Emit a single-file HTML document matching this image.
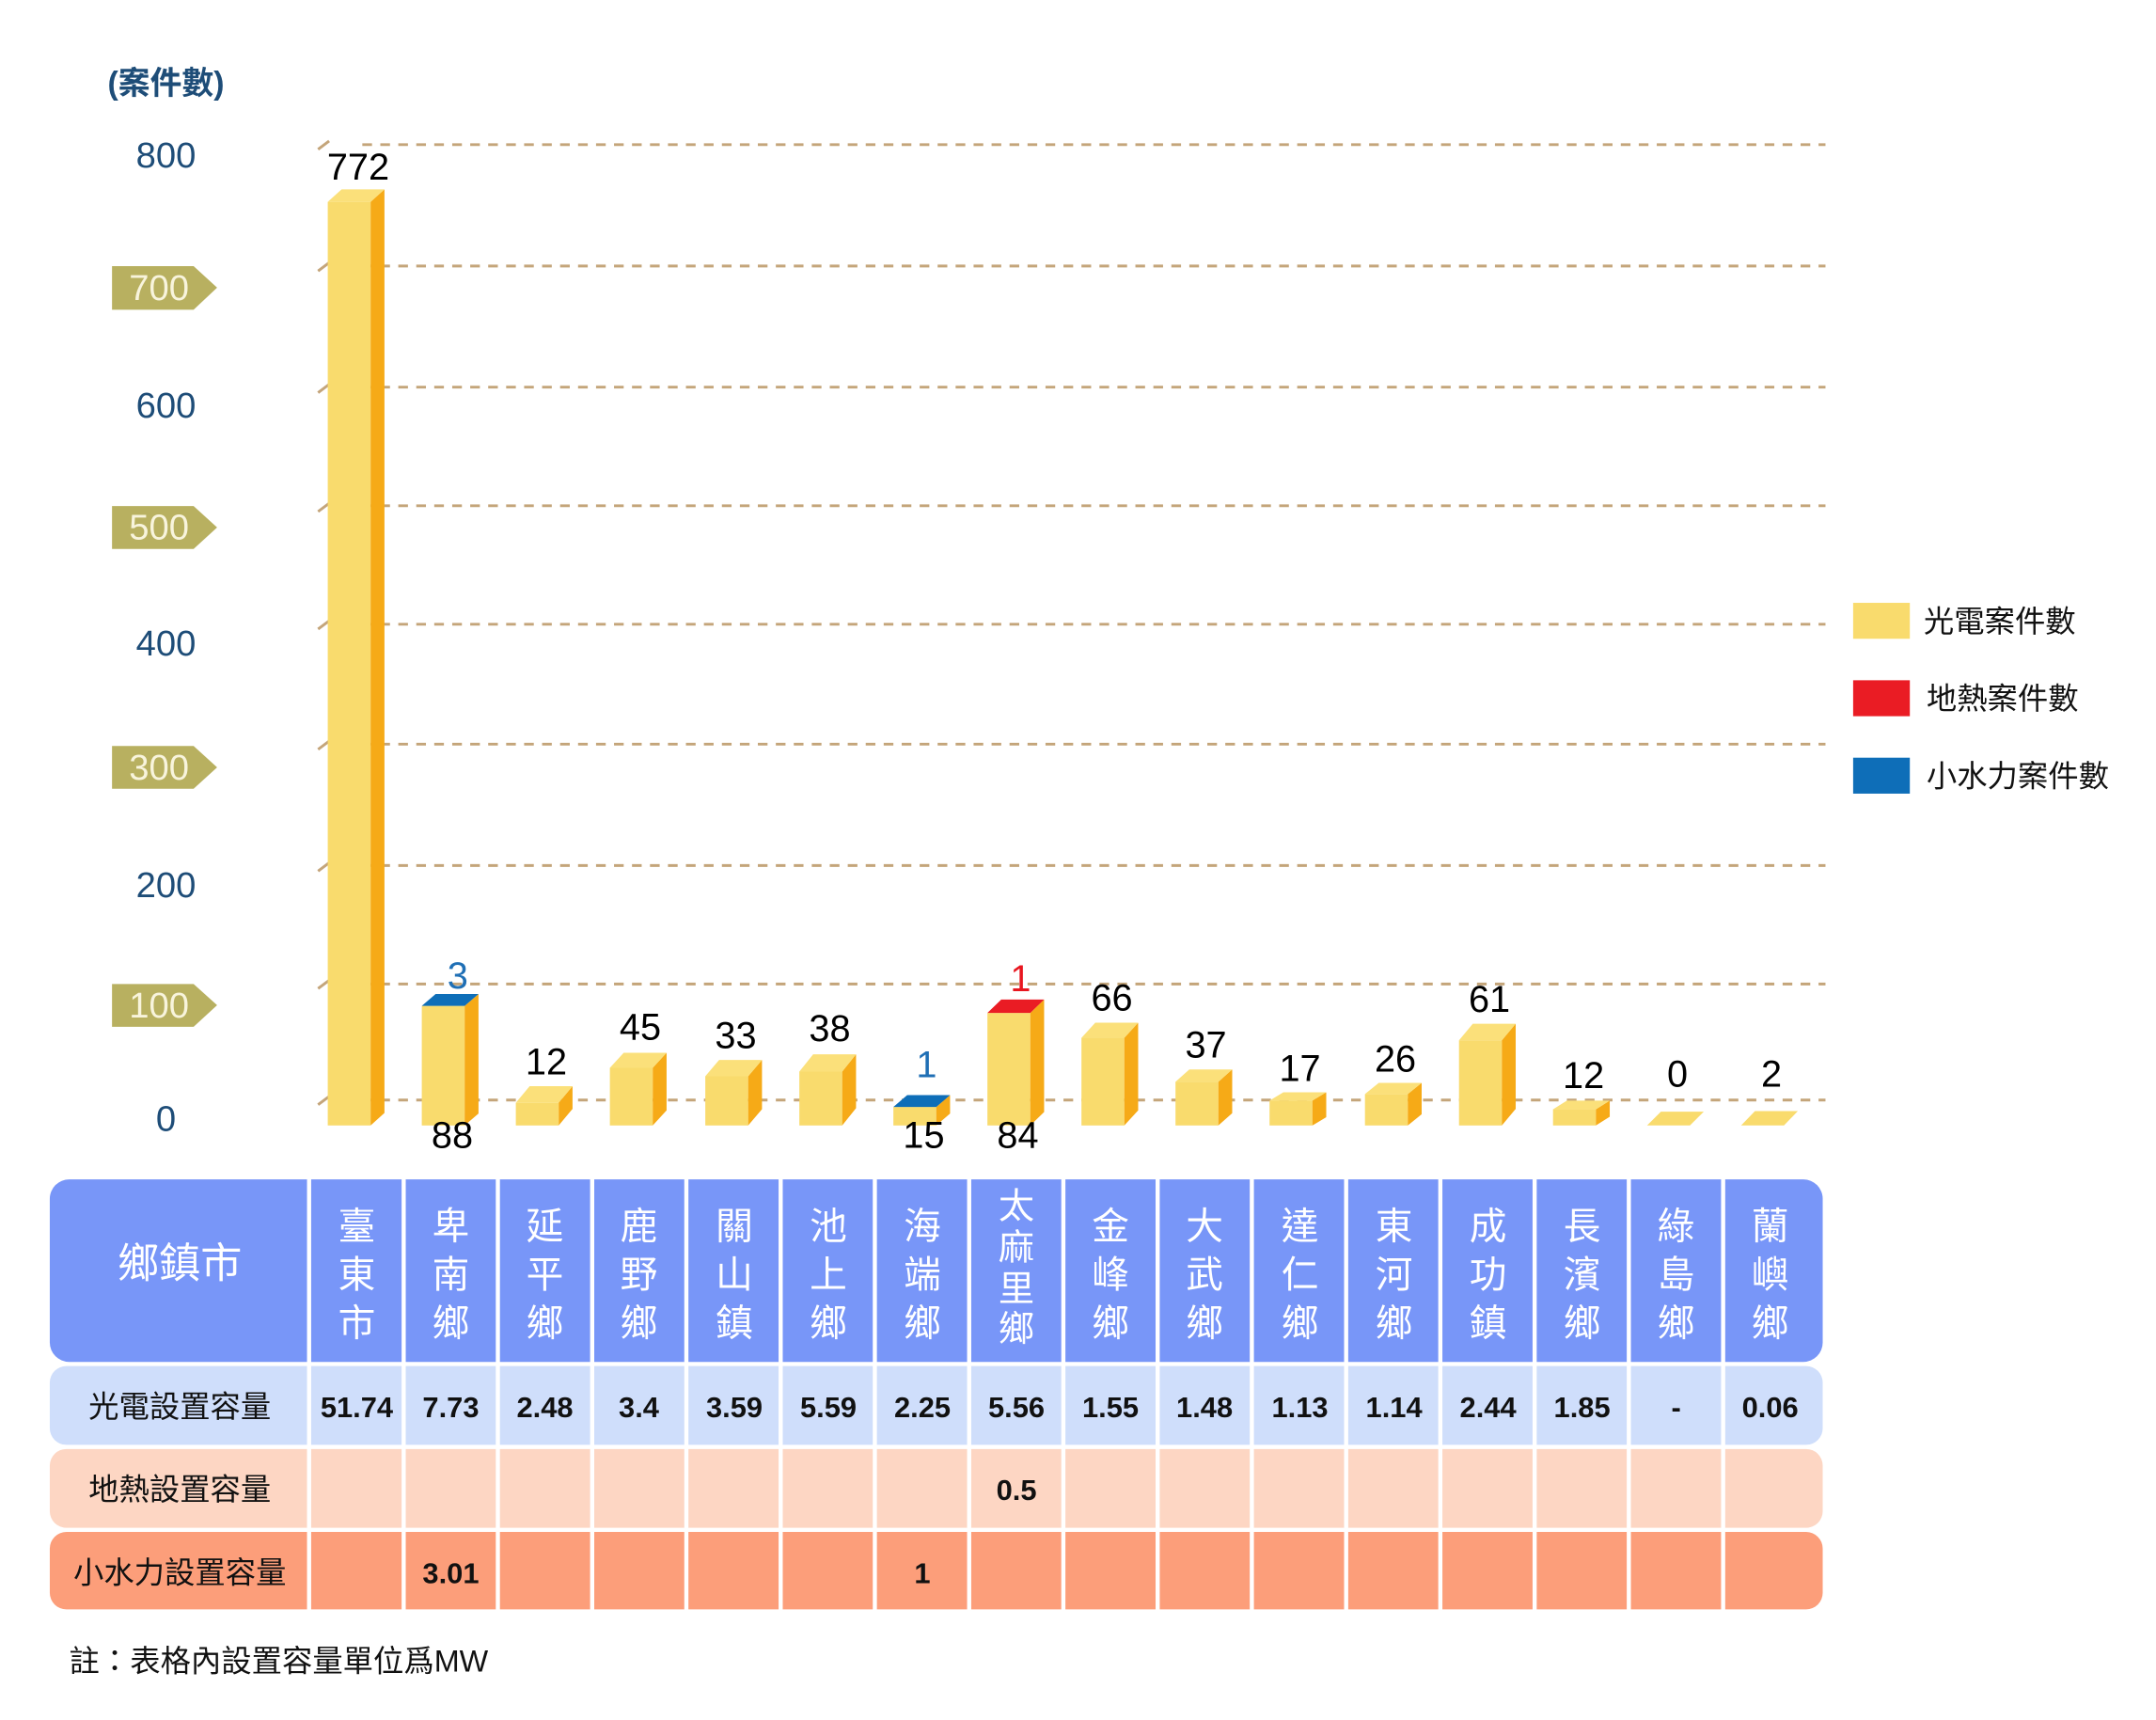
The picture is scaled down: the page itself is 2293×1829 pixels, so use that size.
<!DOCTYPE html>
<html><head><meta charset="utf-8"><style>
html,body{margin:0;padding:0;background:#fff;}
svg{display:block;}
text{font-family:"Liberation Sans","Noto Sans CJK TC",sans-serif;}
</style></head><body>
<svg width="2293" height="1829" viewBox="0 0 1559 1244" preserveAspectRatio="none" xmlns="http://www.w3.org/2000/svg">
<rect width="1559" height="1244" fill="#fff"/>
<text x="120" y="68" font-size="23" fill="#1e4d78" text-anchor="middle" font-weight="bold">(案件數)</text>
<g stroke="#c4a57a" stroke-width="2" stroke-dasharray="7,6" fill="none">
<line x1="262" y1="104.6" x2="1320" y2="104.6"/><line x1="262" y1="192.4" x2="1320" y2="192.4"/>
<line x1="262" y1="280" x2="1320" y2="280"/><line x1="262" y1="365.8" x2="1320" y2="365.8"/>
<line x1="262" y1="451.5" x2="1320" y2="451.5"/><line x1="262" y1="538.2" x2="1320" y2="538.2"/>
<line x1="262" y1="626" x2="1320" y2="626"/><line x1="262" y1="711.7" x2="1320" y2="711.7"/>
<line x1="262" y1="795.6" x2="1320" y2="795.6"/>
</g>
<g stroke="#c4a57a" stroke-width="2">
<line x1="230" y1="108" x2="238" y2="102"/><line x1="230" y1="196" x2="238" y2="190"/>
<line x1="230" y1="284" x2="238" y2="278"/><line x1="230" y1="370" x2="238" y2="364"/>
<line x1="230" y1="455" x2="238" y2="449"/><line x1="230" y1="542" x2="238" y2="536"/>
<line x1="230" y1="630" x2="238" y2="624"/><line x1="230" y1="715" x2="238" y2="709"/>
<line x1="230" y1="799" x2="238" y2="793"/>
</g>
<g fill="#b8b060">
<polygon points="81,192.5 140,192.5 157,208 140,224 81,224"/>
<polygon points="81,366 140,366 157,381.5 140,397 81,397"/>
<polygon points="81,539.5 140,539.5 157,555 140,570.5 81,570.5"/>
<polygon points="81,711.7 140,711.7 157,727 140,742.6 81,742.6"/>
</g>
<g font-size="26" text-anchor="middle">
<text x="120" y="121" fill="#1e4d78">800</text>
<text x="115" y="217" fill="#f8f4dc">700</text>
<text x="120" y="302" fill="#1e4d78">600</text>
<text x="115" y="390" fill="#f8f4dc">500</text>
<text x="120" y="474" fill="#1e4d78">400</text>
<text x="115" y="564" fill="#f8f4dc">300</text>
<text x="120" y="649" fill="#1e4d78">200</text>
<text x="115" y="736" fill="#f8f4dc">100</text>
<text x="120" y="818" fill="#1e4d78">0</text>
</g>
<!-- bars -->
<g>
<rect x="237" y="146" width="31" height="668" fill="#f9db6d"/><polygon points="268,146 278,137 278,805 268,814" fill="#f6aa17"/><polygon points="237,146 247,137 278,137 268,146" fill="#fbe07a"/>
<rect x="305" y="727.5" width="31" height="86.5" fill="#f9db6d"/><polygon points="336,727.5 346,718.9 346,805.4 336,814" fill="#f6aa17"/><polygon points="305,727.5 315,718.9 346,718.9 336,727.5" fill="#0e6eb8"/>
<rect x="373" y="797.6" width="31" height="16.4" fill="#f9db6d"/><polygon points="404,797.6 414,785.6 414,802 404,814" fill="#f6aa17"/><polygon points="373,797.6 383,785.6 414,785.6 404,797.6" fill="#fbe07a"/>
<rect x="441" y="772.3" width="31" height="41.7" fill="#f9db6d"/><polygon points="472,772.3 482,761.4 482,803.1 472,814" fill="#f6aa17"/><polygon points="441,772.3 451,761.4 482,761.4 472,772.3" fill="#fbe07a"/>
<rect x="510" y="778.4" width="31" height="35.6" fill="#f9db6d"/><polygon points="541,778.4 551,766.6 551,802.2 541,814" fill="#f6aa17"/><polygon points="510,778.4 520,766.6 551,766.6 541,778.4" fill="#fbe07a"/>
<rect x="578" y="775" width="31" height="39" fill="#f9db6d"/><polygon points="609,775 619,762.5 619,801.5 609,814" fill="#f6aa17"/><polygon points="578,775 588,762.5 619,762.5 609,775" fill="#fbe07a"/>
<rect x="646" y="800.6" width="31" height="13.4" fill="#f9db6d"/><polygon points="677,800.6 687,792 687,805.4 677,814" fill="#f6aa17"/><polygon points="646,800.6 656,792 687,792 677,800.6" fill="#0e6eb8"/>
<rect x="714" y="732.6" width="31" height="81.4" fill="#f9db6d"/><polygon points="745,732.6 755,722.9 755,804.3 745,814" fill="#f6aa17"/><polygon points="714,732.6 724,722.9 755,722.9 745,732.6" fill="#ea1c24"/>
<rect x="782" y="750.6" width="31" height="63.4" fill="#f9db6d"/><polygon points="813,750.6 823,739.7 823,803.1 813,814" fill="#f6aa17"/><polygon points="782,750.6 792,739.7 823,739.7 813,750.6" fill="#fbe07a"/>
<rect x="850" y="782.4" width="31" height="31.6" fill="#f9db6d"/><polygon points="881,782.4 891,773.5 891,805.1 881,814" fill="#f6aa17"/><polygon points="850,782.4 860,773.5 891,773.5 881,782.4" fill="#fbe07a"/>
<rect x="918" y="796" width="31" height="18" fill="#f9db6d"/><polygon points="949,796 959,790 959,808 949,814" fill="#f6aa17"/><polygon points="918,796 928,790 959,790 949,796" fill="#fbe07a"/>
<rect x="987" y="791.3" width="31" height="22.7" fill="#f9db6d"/><polygon points="1018,791.3 1028,783.2 1028,805.9 1018,814" fill="#f6aa17"/><polygon points="987,791.3 997,783.2 1028,783.2 1018,791.3" fill="#fbe07a"/>
<rect x="1055" y="752.4" width="31" height="61.6" fill="#f9db6d"/><polygon points="1086,752.4 1096,740.4 1096,802 1086,814" fill="#f6aa17"/><polygon points="1055,752.4 1065,740.4 1096,740.4 1086,752.4" fill="#fbe07a"/>
<rect x="1123" y="802.3" width="31" height="11.7" fill="#f9db6d"/><polygon points="1154,802.3 1164,796 1164,807.7 1154,814" fill="#f6aa17"/><polygon points="1123,802.3 1133,796 1164,796 1154,802.3" fill="#fbe07a"/>
<polygon points="1191,814 1201,804 1232,804 1222,814" fill="#f9db6d"/>
<polygon points="1259,814 1269,803.6 1300,803.6 1290,814" fill="#f9db6d"/>
</g>
<g font-size="27" text-anchor="middle" fill="#000">
<text x="259" y="130">772</text>
<text x="395" y="777">12</text>
<text x="463" y="752">45</text>
<text x="532" y="758">33</text>
<text x="600" y="753">38</text>
<text x="804" y="731">66</text>
<text x="872" y="765">37</text>
<text x="940" y="782">17</text>
<text x="1009" y="775">26</text>
<text x="1077" y="732">61</text>
<text x="1145" y="787">12</text>
<text x="1213" y="786">0</text>
<text x="1281" y="786">2</text>
<text x="327" y="830">88</text>
<text x="668" y="830">15</text>
<text x="736" y="830">84</text>
<text x="331" y="715" fill="#1f6fb5">3</text>
<text x="670" y="779" fill="#1f6fb5">1</text>
<text x="738" y="717" fill="#e8161f">1</text>
</g>
<!-- legend -->
<rect x="1340" y="436" width="41" height="26" fill="#f9db6d"/>
<rect x="1340" y="492" width="41" height="26" fill="#ea1c24"/>
<rect x="1340" y="548" width="41" height="26" fill="#0e6eb8"/>
<g font-size="22" fill="#111">
<text x="1391" y="457">光電案件數</text>
<text x="1393" y="513">地熱案件數</text>
<text x="1393" y="569">小水力案件數</text>
</g>
<!-- table -->
<rect x="36" y="853" width="1282" height="132" rx="14" fill="#7896f8"/>
<rect x="36" y="988" width="1282" height="57" rx="12" fill="#cfdefb"/>
<rect x="36" y="1048" width="1282" height="57" rx="12" fill="#fdd6c3"/>
<rect x="36" y="1108" width="1282" height="56" rx="12" fill="#fc9e7a"/>
<g fill="#fff">
<rect x="222" y="850" width="3" height="320"/><rect x="290.4" y="850" width="3" height="320"/>
<rect x="358.5" y="850" width="3" height="320"/><rect x="426.7" y="850" width="3" height="320"/>
<rect x="494.8" y="850" width="3" height="320"/><rect x="563" y="850" width="3" height="320"/>
<rect x="631.1" y="850" width="3" height="320"/><rect x="699.3" y="850" width="3" height="320"/>
<rect x="767.4" y="850" width="3" height="320"/><rect x="835.6" y="850" width="3" height="320"/>
<rect x="903.7" y="850" width="3" height="320"/><rect x="971.9" y="850" width="3" height="320"/>
<rect x="1040" y="850" width="3" height="320"/><rect x="1108.2" y="850" width="3" height="320"/>
<rect x="1176.3" y="850" width="3" height="320"/><rect x="1244.5" y="850" width="3" height="320"/>
</g>
<text x="130" y="924" font-size="30" fill="#fff" text-anchor="middle">鄉鎮市</text>
<g font-size="27" fill="#fff" text-anchor="middle">
<text x="258" y="896">臺</text><text x="258" y="931">東</text><text x="258" y="966">市</text>
<text x="326" y="896">卑</text><text x="326" y="931">南</text><text x="326" y="966">鄉</text>
<text x="394" y="896">延</text><text x="394" y="931">平</text><text x="394" y="966">鄉</text>
<text x="462" y="896">鹿</text><text x="462" y="931">野</text><text x="462" y="966">鄉</text>
<text x="531" y="896">關</text><text x="531" y="931">山</text><text x="531" y="966">鎮</text>
<text x="599" y="896">池</text><text x="599" y="931">上</text><text x="599" y="966">鄉</text>
<text x="667" y="896">海</text><text x="667" y="931">端</text><text x="667" y="966">鄉</text>
<g font-size="26"><text x="735" y="881">太</text><text x="735" y="911">麻</text><text x="735" y="941">里</text><text x="735" y="970">鄉</text></g>
<text x="803" y="896">金</text><text x="803" y="931">峰</text><text x="803" y="966">鄉</text>
<text x="871" y="896">大</text><text x="871" y="931">武</text><text x="871" y="966">鄉</text>
<text x="940" y="896">達</text><text x="940" y="931">仁</text><text x="940" y="966">鄉</text>
<text x="1008" y="896">東</text><text x="1008" y="931">河</text><text x="1008" y="966">鄉</text>
<text x="1076" y="896">成</text><text x="1076" y="931">功</text><text x="1076" y="966">鎮</text>
<text x="1144" y="896">長</text><text x="1144" y="931">濱</text><text x="1144" y="966">鄉</text>
<text x="1212" y="896">綠</text><text x="1212" y="931">島</text><text x="1212" y="966">鄉</text>
<text x="1280" y="896">蘭</text><text x="1280" y="931">嶼</text><text x="1280" y="966">鄉</text>
</g>
<g font-size="22" fill="#111" text-anchor="middle">
<text x="130" y="1025">光電設置容量</text>
<text x="130" y="1085">地熱設置容量</text>
<text x="130" y="1145">小水力設置容量</text>
</g>
<g font-size="21" font-weight="bold" fill="#111" text-anchor="middle">
<text x="258" y="1025">51.74</text><text x="326" y="1025">7.73</text><text x="394" y="1025">2.48</text>
<text x="462" y="1025">3.4</text><text x="531" y="1025">3.59</text><text x="599" y="1025">5.59</text>
<text x="667" y="1025">2.25</text><text x="735" y="1025">5.56</text><text x="803" y="1025">1.55</text>
<text x="871" y="1025">1.48</text><text x="940" y="1025">1.13</text><text x="1008" y="1025">1.14</text>
<text x="1076" y="1025">2.44</text><text x="1144" y="1025">1.85</text><text x="1212" y="1025">-</text>
<text x="1280" y="1025">0.06</text>
<text x="735" y="1085">0.5</text>
<text x="326" y="1145">3.01</text><text x="667" y="1145">1</text>
</g>
<text x="50" y="1209" font-size="22" fill="#111">註：表格內設置容量單位爲MW</text>
</svg>
</body></html>
